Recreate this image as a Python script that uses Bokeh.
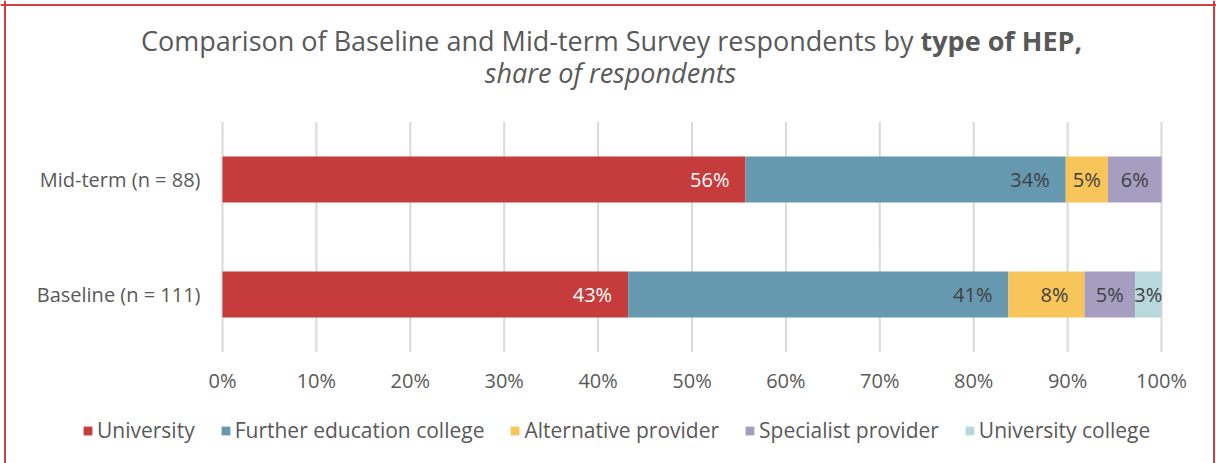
from bokeh.plotting import figure
from bokeh.models import (ColumnDataSource, Range1d, FixedTicker, CustomJSTickFormatter,
                          Legend, LegendItem, Label, Span)
from bokeh.embed import file_html
from bokeh.resources import INLINE
from bokeh.core.properties import value

# ---- data ----
groups = ["Baseline (n = 111)", "Mid-term (n = 88)"]
series = ["University", "Further education college", "Alternative provider",
          "Specialist provider", "University college"]
baseline = [43.2, 40.5, 8.1, 5.4, 2.8]
midterm = [55.7, 34.1, 4.5, 5.7, 0.0]
colors = ["#C63B3B", "#6699B0", "#F7C55A", "#A59EC0", "#B9D8DB"]
label_colors = ["#FFFFFF", "#404040", "#404040", "#404040", "#404040"]
ticks = [0, 10, 20, 30, 40, 50, 60, 70, 80, 90, 100]
title_main = "Comparison of Baseline and Mid-term Survey respondents by "
title_bold = "type of HEP,"
title_sub = "share of respondents"

FONT = "Open Sans"
GREY = "#595959"
RED = "#D04040"

# ---- layout (pixels inside the figure) ----
W, H = 1216, 463
AREA_L, AREA_R = 222, 1161        # plot area left/right
ROW_PX = 115                       # distance between the two bars
ROW0_Y = 294                       # pixel row (from top) of first group centre
px_per_unit = (AREA_R - AREA_L) / 100.0
x_start = -AREA_L / px_per_unit
x_end = 100 + (W - AREA_R) / px_per_unit
y_end = ROW0_Y / ROW_PX
y_start = -(H - ROW0_Y) / ROW_PX

ypos = list(range(len(groups)))

p = figure(width=W, height=H, x_range=Range1d(x_start, x_end), y_range=Range1d(y_start, y_end),
           output_backend="svg", toolbar_location=None, min_border=0)

data = {"y": ypos}
for i, s in enumerate(series):
    data[s] = [baseline[i], midterm[i]]
src = ColumnDataSource(data)

# grid lines over the plot area
n = len(groups)
p.segment(x0=ticks, x1=ticks, y0=[-0.5] * len(ticks), y1=[n - 0.5] * len(ticks),
          line_color="#D9D9D9", line_width=2)

renderers = p.hbar_stack(series, y="y", height=0.4, color=colors, source=src, line_width=0)

rows = [baseline, midterm]
r_x, r_y, r_t, r_c = [], [], [], []
c_x, c_y, c_t, c_c = [], [], [], []
for g, vals in zip(ypos, rows):
    start = 0.0
    for i, v in enumerate(vals):
        end = start + v
        if v > 0:
            txt = f"{int(v + 0.5)}%"
            if v < 6:
                c_x.append((start + end) / 2); c_y.append(g); c_t.append(txt); c_c.append(label_colors[i])
            else:
                r_x.append(end); r_y.append(g); r_t.append(txt); r_c.append(label_colors[i])
        start = end

p.text(x="x", y="y", text="t", text_color="c", source=ColumnDataSource(dict(x=r_x, y=r_y, t=r_t, c=r_c)),
       text_align="right", text_baseline="middle", x_offset=-16, text_font=value(FONT),
       text_font_size="20px")
p.text(x="x", y="y", text="t", text_color="c", source=ColumnDataSource(dict(x=c_x, y=c_y, t=c_t, c=c_c)),
       text_align="center", text_baseline="middle", text_font=value(FONT), text_font_size="20px")

# axes fixed at the plot-area edges
p.xaxis.fixed_location = -0.5
p.xaxis.ticker = FixedTicker(ticks=ticks)
p.xaxis.formatter = CustomJSTickFormatter(code="return tick + '%'")
p.yaxis.fixed_location = 0
p.yaxis.ticker = FixedTicker(ticks=ypos)
p.yaxis.major_label_overrides = {i: g for i, g in zip(ypos, groups)}
for ax in (p.xaxis[0], p.yaxis[0]):
    ax.axis_line_color = None
    ax.major_tick_line_color = None
    ax.minor_tick_line_color = None
    ax.major_tick_out = 0
    ax.major_tick_in = 0
    ax.major_label_text_font = FONT
    ax.major_label_text_font_size = "20px"
    ax.major_label_text_color = GREY
p.xaxis.major_label_standoff = 15
p.yaxis.major_label_standoff = 22

p.grid.visible = False
p.outline_line_color = None

# legend
items = [LegendItem(label=s, renderers=[r]) for s, r in zip(series, renderers)]
leg = Legend(items=items, orientation="horizontal", location=(82, 19),
             glyph_width=11, glyph_height=11, label_standoff=4, spacing=25,
             label_text_font=FONT, label_text_font_size="21px", label_text_color=GREY,
             border_line_color=None, background_fill_alpha=0, padding=0, margin=0)
p.add_layout(leg, "center")

# title
split = 920
p.add_layout(Label(x=split, y=423, x_units="screen", y_units="screen", text=title_main,
                   text_align="right", text_baseline="middle", text_font=FONT,
                   text_font_size="27px", text_color=GREY))
p.add_layout(Label(x=split, y=423, x_units="screen", y_units="screen", text=title_bold,
                   text_align="left", text_baseline="middle", text_font=FONT,
                   text_font_size="27px", text_font_style="bold", text_color=GREY))
p.add_layout(Label(x=610, y=391, x_units="screen", y_units="screen", text=title_sub,
                   text_align="center", text_baseline="middle", text_font=FONT,
                   text_font_size="27px", text_font_style="italic", text_color=GREY))

# red frame
p.add_layout(Span(location=x_start + 4.5 / px_per_unit, dimension="height", line_color=RED, line_width=2))
p.add_layout(Span(location=x_end - 2.5 / px_per_unit, dimension="height", line_color=RED, line_width=2))
p.add_layout(Span(location=y_end - 4.5 / ROW_PX, dimension="width", line_color=RED, line_width=2))

open("out.html", "w").write(file_html(p, INLINE))
